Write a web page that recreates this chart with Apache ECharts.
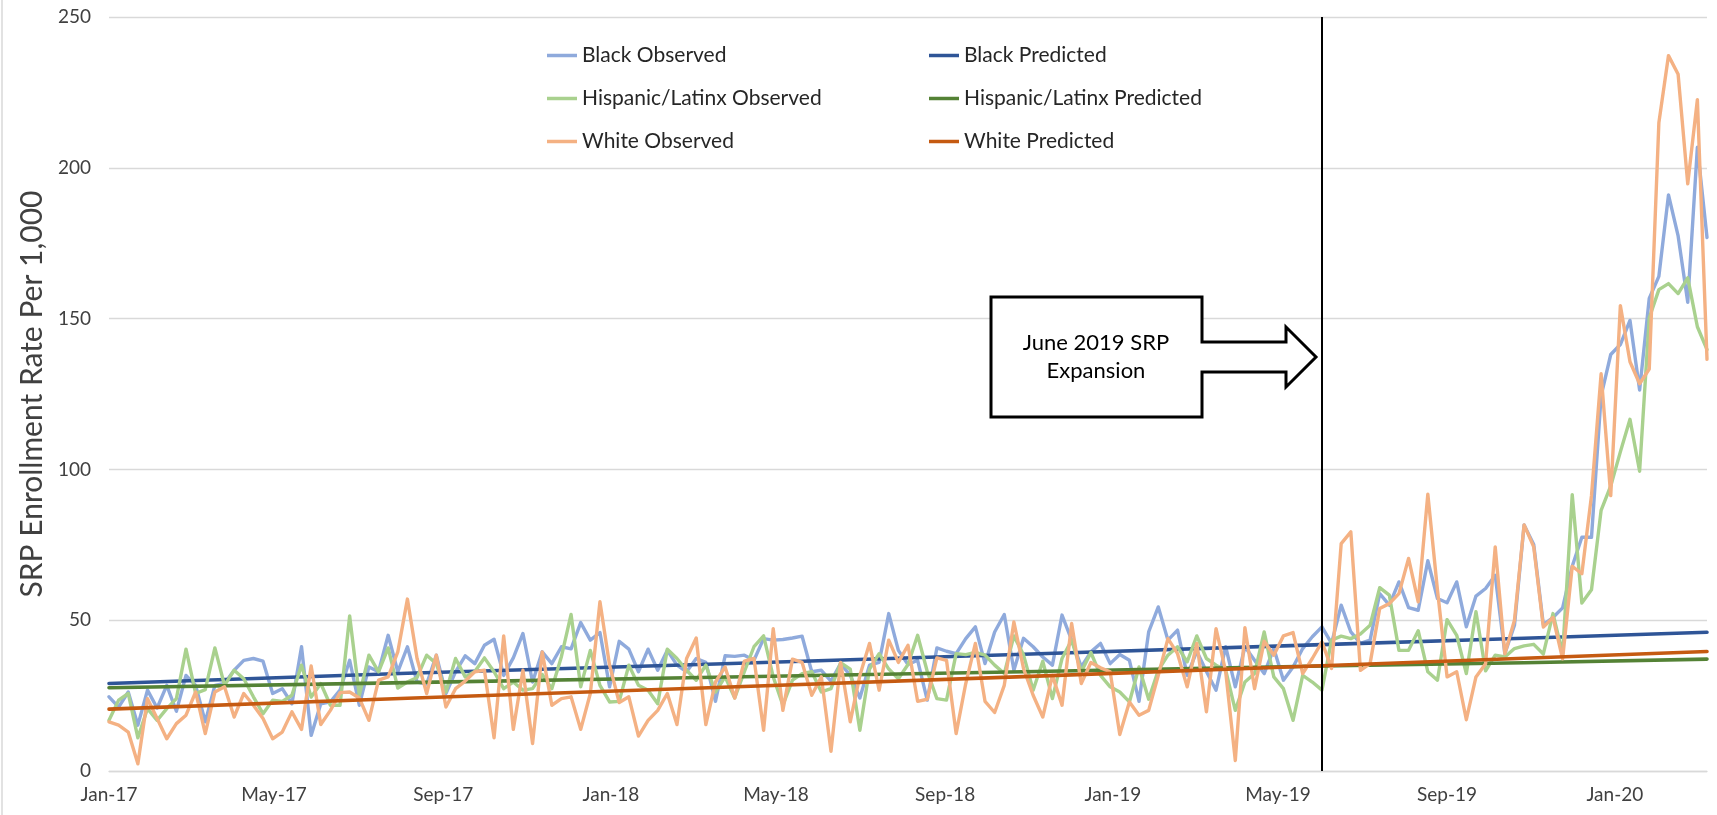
<!DOCTYPE html>
<html>
<head>
<meta charset="utf-8">
<script src="https://cdn.jsdelivr.net/npm/echarts@6/dist/echarts.min.js"></script>
<style>
html,body{margin:0;padding:0;background:#ffffff;}
#chart{width:1717px;height:815px;}
</style>
</head>
<body>
<div id="chart"></div>
<script>
// ---------- DATA ----------
const firstWeek = '2017-01-01';          // first weekly observation
const weekCount = 167;                  // weekly observations through 2020-03-08
const tickLabelDates = ['2017-01-01','2017-05-01','2017-09-01','2018-01-01','2018-05-01',
                        '2018-09-01','2019-01-01','2019-05-01','2019-09-01','2020-01-01'];
const monthNames = ['Jan','Feb','Mar','Apr','May','Jun','Jul','Aug','Sep','Oct','Nov','Dec'];
const expansionDate = '2019-06-02';
const annotationText = 'June 2019 SRP\nExpansion';
const yAxisTitle = 'SRP Enrollment Rate Per 1,000';

const blackObserved = [
 24.6,21.2,26.2,15.2,26.8,20.9,28.4,19.8,31.7,28.4,
 16.3,28.4,29.0,33.4,36.7,37.3,36.4,25.7,27.3,22.3,
 41.2,11.8,22.3,22.9,26.8,36.7,21.8,34.5,32.9,45.0,
 32.9,41.2,29.5,28.8,38.4,25.7,32.9,38.2,35.6,41.7,
 43.7,31.7,37.5,45.6,29.5,39.5,35.6,41.2,40.5,49.2,
 43.4,45.9,27.9,43.0,40.4,32.9,40.4,33.4,40.0,35.1,
 32.9,37.3,36.0,23.1,38.2,38.0,38.4,36.7,43.9,43.4,
 43.6,44.1,44.7,32.9,33.4,29.8,35.6,31.7,24.2,35.1,
 36.0,52.2,40.0,35.3,36.7,23.5,40.8,39.7,38.9,43.9,
 47.8,35.6,46.1,51.9,33.4,44.0,41.2,37.8,35.1,51.7,
 43.4,34.5,39.5,42.3,35.6,38.6,36.7,23.1,46.1,54.4,
 43.4,46.7,31.7,39.7,33.0,26.8,41.2,27.9,41.2,36.7,
 32.3,40.6,30.1,34.5,40.6,44.5,47.8,42.3,55.0,46.1,
 42.3,43.4,58.8,55.0,62.7,54.2,53.3,69.7,57.2,55.8,
 62.7,47.8,58.0,60.5,64.9,38.9,48.3,81.6,75.1,48.5,
 50.9,54.1,67.9,77.5,77.5,124.4,138.1,141.4,149.4,126.3,
 156.7,164.0,191.0,177.4,155.4,206.8,176.9
];
const hispanicObserved = [
 16.8,23.5,25.7,11.0,20.7,16.8,20.7,24.0,40.4,25.7,
 27.0,40.8,28.4,33.4,30.6,24.6,19.0,23.5,23.1,25.1,
 35.1,24.5,29.0,21.8,21.8,51.4,25.1,38.4,32.9,40.8,
 27.5,29.5,31.0,38.4,35.6,26.2,37.3,31.2,33.0,37.5,
 32.9,27.3,29.5,26.8,27.3,32.0,27.3,38.0,51.9,27.9,
 40.0,28.4,22.9,23.1,35.1,28.4,26.8,22.3,40.4,37.3,
 33.4,30.1,35.1,26.2,31.2,24.2,32.9,41.2,44.8,31.2,
 21.8,30.1,32.3,32.9,26.2,27.3,35.9,33.8,13.5,33.8,
 38.9,33.8,30.6,35.3,45.0,33.0,24.0,23.5,38.9,38.6,
 39.3,38.4,35.1,32.3,44.8,38.5,26.8,36.4,24.0,37.3,
 43.4,32.9,39.3,31.7,27.9,26.2,22.9,34.5,23.8,33.4,
 38.4,41.2,36.2,44.8,37.3,35.1,33.4,20.1,29.5,32.3,
 46.1,31.2,27.3,16.8,31.7,29.5,26.8,43.4,44.7,43.9,
 45.4,48.3,60.8,58.3,40.0,40.0,46.5,32.9,30.1,50.2,
 45.0,32.3,52.8,33.2,38.4,37.8,40.6,41.5,42.0,38.8,
 52.2,38.8,91.6,55.7,60.1,86.4,94.5,105.8,116.6,99.4,
 150.2,159.6,161.6,158.3,163.5,147.3,139.7
];
const whiteObserved = [
 16.3,15.2,12.9,2.4,24.0,17.4,10.7,15.7,18.5,26.2,
 12.4,26.2,27.9,17.9,25.7,21.8,17.4,10.7,12.9,19.6,
 13.8,34.8,15.4,20.1,26.0,26.2,24.2,16.8,30.1,31.2,
 39.5,57.0,37.3,25.7,38.4,21.2,27.3,29.8,32.9,33.4,
 11.0,44.8,13.8,33.4,9.1,39.5,21.8,24.0,24.6,13.8,
 25.7,56.1,35.1,22.7,24.6,11.6,16.8,20.1,25.7,15.4,
 37.3,44.1,15.4,29.5,34.5,24.2,36.4,37.3,13.5,47.2,
 20.1,37.1,36.0,25.1,31.2,6.5,36.0,16.3,31.7,42.3,
 26.8,43.4,36.0,41.7,23.1,23.8,37.5,36.7,12.4,29.0,
 42.3,23.1,19.4,28.4,49.4,34.0,25.1,17.9,31.7,21.8,
 48.9,29.0,36.0,34.2,32.9,12.1,22.9,18.5,20.1,31.7,
 43.9,38.9,27.9,42.3,19.6,47.2,33.0,3.5,47.5,27.3,
 43.0,38.4,44.8,45.9,32.3,37.3,42.8,34.0,75.4,79.3,
 33.4,35.6,53.9,55.5,58.8,70.5,56.1,91.8,60.0,31.2,
 32.9,17.0,31.2,35.6,74.3,38.9,50.0,81.6,74.3,47.7,
 50.9,37.2,67.9,65.4,91.3,131.7,91.3,154.3,135.7,128.4,
 133.3,214.9,237.2,231.0,194.7,222.6,136.5
];
// Predicted (straight trend lines), read as [week index, value]
const blackPredicted    = [[0,29.0],[31,32.4],[63,35.5],[95,38.7],[126,41.9],[147,44.0],[166,46.0]];
const hispanicPredicted = [[0,27.6],[31,29.3],[63,31.1],[95,32.9],[126,34.8],[147,35.9],[166,37.1]];
const whitePredicted    = [[0,20.5],[31,24.1],[63,27.7],[95,31.3],[126,34.9],[147,37.4],[166,39.6]];

// ---------- BUILD ----------
const DAY = 86400000;
const startTs = Date.parse(firstWeek);
const weekDates = Array.from({length: weekCount}, (_, i) => startTs + i * 7 * DAY);
const observedPairs = arr => arr.map((v, i) => [weekDates[i], v]);
const predictedPairs = arr => arr.map(p => [weekDates[p[0]], p[1]]);
const tickTs = tickLabelDates.map(d => Date.parse(d));
const fmtMonth = v => { const d = new Date(v); return monthNames[d.getUTCMonth()] + '-' + String(d.getUTCFullYear()).slice(2); };

const FONT = 'Lato';
const colors = {
  bo: '#8FAADC', bp: '#2F5597',
  ho: '#A9D18E', hp: '#548235',
  wo: '#F4B183', wp: '#C55A11'
};
function lineSeries(name, data, color, width, extra) {
  return Object.assign({
    name, type: 'line', data, showSymbol: false, symbol: 'none',
    lineStyle: {color, width, cap: 'round', join: 'round'},
    itemStyle: {color},
    emphasis: {disabled: true},
    animation: false
  }, extra || {});
}

const chart = echarts.init(document.getElementById('chart'), null, {renderer: 'canvas'});
const legendCommon = {
  orient: 'vertical', icon: 'rect', itemWidth: 30, itemHeight: 3.5, itemGap: 22,
  selectedMode: false, top: 40,
  textStyle: {fontFamily: FONT, fontSize: 21, color: '#262626', lineHeight: 21}
};
const option = {
  backgroundColor: '#ffffff',
  animation: false,
  grid: {left: 109, right: 10, top: 17, bottom: 44, containLabel: false},
  legend: [
    Object.assign({}, legendCommon, {left: 542, data: ['Black Observed','Hispanic/Latinx Observed','White Observed']}),
    Object.assign({}, legendCommon, {left: 924, data: ['Black Predicted','Hispanic/Latinx Predicted','White Predicted']})
  ],
  xAxis: {
    type: 'value',
    min: weekDates[0], max: weekDates[weekCount - 1],
    axisLine: {show: true, lineStyle: {color: '#d9d9d9', width: 1.3}},
    axisTick: {show: false},
    splitLine: {show: false},
    axisLabel: {
      customValues: tickTs,
      formatter: fmtMonth,
      color: '#404040', fontFamily: FONT, fontSize: 19, margin: 14, hideOverlap: false
    }
  },
  yAxis: {
    type: 'value', min: 0, max: 250, interval: 50,
    axisLine: {show: false}, axisTick: {show: false},
    splitLine: {lineStyle: {color: '#d9d9d9', width: 1.3}},
    axisLabel: {color: '#404040', fontFamily: FONT, fontSize: 19, margin: 18},
    name: yAxisTitle, nameLocation: 'middle', nameGap: 53,
    nameTextStyle: {fontFamily: FONT, fontSize: 30, color: '#404040'}
  },
  series: [
    lineSeries('Black Observed', observedPairs(blackObserved), colors.bo, 3.4, {
      markLine: {
        silent: true, symbol: ['none','none'], animation: false,
        label: {show: false},
        lineStyle: {color: '#000000', width: 2, type: 'solid'},
        data: [{xAxis: Date.parse(expansionDate)}]
      }
    }),
    lineSeries('Black Predicted', predictedPairs(blackPredicted), colors.bp, 3.6),
    lineSeries('Hispanic/Latinx Observed', observedPairs(hispanicObserved), colors.ho, 3.4),
    lineSeries('Hispanic/Latinx Predicted', predictedPairs(hispanicPredicted), colors.hp, 3.6),
    lineSeries('White Observed', observedPairs(whiteObserved), colors.wo, 3.4),
    lineSeries('White Predicted', predictedPairs(whitePredicted), colors.wp, 3.6)
  ],
  graphic: [
    {type: 'line', shape: {x1: 2, y1: 0, x2: 2, y2: 815}, style: {stroke: '#d9d9d9', lineWidth: 1.5}, silent: true},
    {
      type: 'polygon', z: 100, silent: true,
      shape: {points: [[991,297],[1202,297],[1202,342],[1286,342],[1286,327],[1316,357],[1286,387],[1286,372],[1202,372],[1202,417],[991,417]]},
      style: {fill: '#ffffff', stroke: '#000000', lineWidth: 3, lineJoin: 'miter'}
    },
    {
      type: 'text', z: 101, silent: true, x: 1096, y: 357,
      style: {text: annotationText, fontFamily: FONT, fontSize: 22, lineHeight: 28,
              fill: '#000000', align: 'center', verticalAlign: 'middle'}
    }
  ]
};
chart.setOption(option);
</script>
</body>
</html>
